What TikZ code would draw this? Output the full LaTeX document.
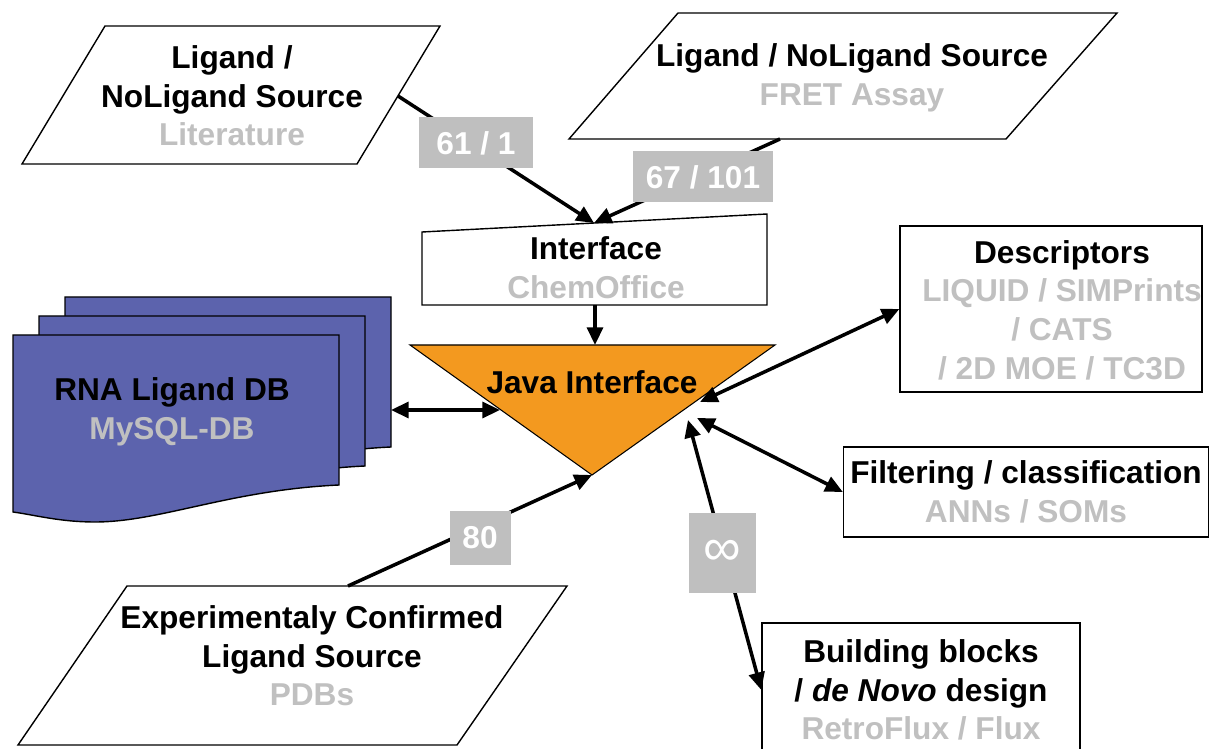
\documentclass[tikz,border=0pt]{standalone}
\usepackage{fontspec}
\setmainfont{Liberation Sans}
\usetikzlibrary{arrows.meta}

\definecolor{dbblue}{RGB}{92,99,173}
\definecolor{javaorange}{RGB}{243,153,31}
\definecolor{tagfill}{RGB}{191,191,191}
\definecolor{srcgray}{RGB}{192,192,192}

\newcommand{\srctext}[1]{\textcolor{srcgray}{#1}}

\begin{document}
\begin{tikzpicture}[x=0.02cm, y=-0.02cm,
    every node/.style={font=\fontsize{18}{22}\selectfont\bfseries, align=center},
    outline/.style={draw=black, line width=0.8pt, fill=white},
    box/.style={outline, inner sep=0pt},
    sheet/.style={draw=black, line width=0.8pt, fill=dbblue},
    flow/.style={line width=2pt, -{Triangle[length=10pt, width=9pt]}},
    biflow/.style={line width=2pt, {Triangle[length=10pt, width=9pt]}-{Triangle[length=10pt, width=9pt]}},
    tag/.style={fill=tagfill, text=white, inner sep=0pt}]
\useasboundingbox (0,0) rectangle (1210,749);

% database stack
\foreach \dx/\dy in {52/-38, 26/-19, 0/0}
    \draw[sheet, shift={(\dx,\dy)}] (13,335) -- (339,335) -- (339,485)
        .. controls (230,490) and (160,522) .. (95,522)
        .. controls (60,522) and (35,515) .. (13,512) -- cycle;
\node (db) at (172,412) {RNA Ligand DB\\ \srctext{MySQL-DB}};

% sources
\draw[outline] (105,26) -- (440,26) -- (357,164) -- (22,164) -- cycle;
\node (lit) at (232,96) {Ligand /\\ NoLigand Source\\ \srctext{Literature}};
\draw[outline] (678,13) -- (1117,13) -- (1006,139) -- (569,139) -- cycle;
\node (fret) at (852,78) {Ligand / NoLigand Source\\ \srctext{FRET Assay}};
\draw[outline] (127,586) -- (567,586) -- (457,745) -- (18,745) -- cycle;
\node (pdb) at (312,656) {Experimentaly Confirmed\\ Ligand Source\\ \srctext{PDBs}};

% interface and java
\draw[outline] (422,232) -- (767,214) -- (767,305) -- (422,305) -- cycle;
\node (chem) at (596,268) {Interface\\ \srctext{ChemOffice}};
\draw[draw=black, line width=0.6pt, fill=javaorange] (410,345) -- (775,345) -- (592,475) -- cycle;
\node (java) at (592,382) {Java Interface};

% tools
\node[box, minimum width=6.04cm, minimum height=3.32cm] (desc) at (1051,309) {};
\node (desc-txt) at (1062,310)
    {Descriptors\\ \srctext{LIQUID / SIMPrints}\\ \srctext{/ CATS}\\ \srctext{/ 2D MOE / TC3D}};
\node[box, minimum width=7.3cm, minimum height=1.8cm] (filt) at (1026,492)
    {Filtering / classification\\ \srctext{ANNs / SOMs}};
\node[box, minimum width=6.36cm, minimum height=2.68cm] (build) at (921,690)
    {Building blocks\\ / \textit{de Novo} design\\ \srctext{RetroFlux / Flux}};

\coordinate (lit-out) at (398,96);
\coordinate (fret-out) at (780,139);
\coordinate (chem-in) at (594,223);
\coordinate (chem-out) at (595,305);
\coordinate (java-n) at (595,345);
\coordinate (java-w) at (500,410);
\coordinate (java-s) at (592,475);
\coordinate (db-out) at (391,410);
\coordinate (pdb-out) at (348,586);
\coordinate (java-e1) at (700,402);
\coordinate (java-e2) at (697,418);
\coordinate (java-e3) at (688,420);

\draw[flow] (lit-out) -- (chem-in);
\draw[flow] (fret-out) -- (chem-in);
\draw[flow] (chem-out) -- (java-n);
\draw[biflow] (db-out) -- (java-w);
\draw[flow] (pdb-out) -- (java-s);
\draw[biflow] (java-e1) -- (desc.west);
\draw[biflow] (java-e2) -- (filt.west);
\draw[biflow] (java-e3) -- (build.west);

% counts
\node[tag, minimum width=2.28cm, minimum height=1.02cm] (n-lit) at (476,143) {61 / 1};
\node[tag, minimum width=2.8cm, minimum height=1.02cm] (n-fret) at (703,177) {67 / 101};
\node[tag, minimum width=1.22cm, minimum height=1.1cm] (n-pdb) at (480,538) {80};
\node[tag, minimum width=1.34cm, minimum height=1.6cm, font=\fontsize{30}{30}\selectfont] (n-build) at (722,553) {∞};
\end{tikzpicture}
\end{document}
